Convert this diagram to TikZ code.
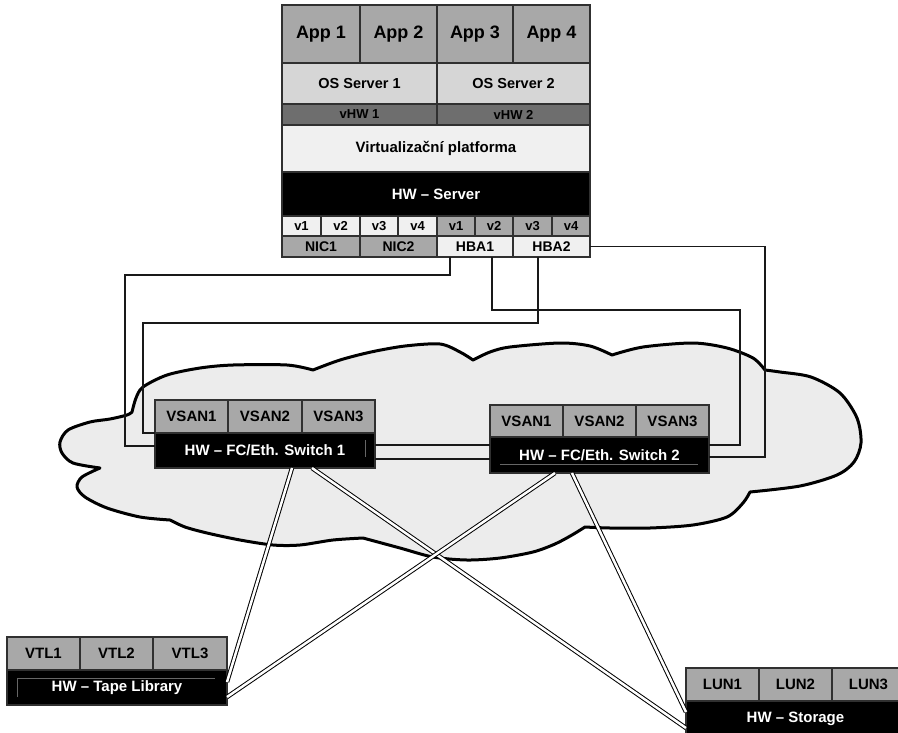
\documentclass[tikz,border=0pt]{standalone}
\usepackage{fontspec}
\setmainfont{Liberation Sans}
\definecolor{cellline}{HTML}{303030}
\definecolor{cgray}{HTML}{A8A8A8}
\definecolor{clight}{HTML}{D6D6D6}
\definecolor{cdark}{HTML}{6E6E6E}
\definecolor{cpale}{HTML}{F0F0F0}
\definecolor{cloudfill}{HTML}{ECECEC}
% a rectangular cell given by its top-left and bottom-right corners
\newcommand\cellat[7]{\node[cell,#6,minimum width={(#4-#2)*1pt},minimum height={(#5-#3)*1pt}] (#1) at (#2,#3) {#7};}
\begin{document}
\begin{tikzpicture}[x=1pt,y=-1pt,
  cell/.style={draw=cellline,line width=1.7pt,inner sep=0pt,outer sep=0pt,anchor=north west,
    font=\bfseries\fontsize{15}{17}\selectfont,text=black},
  mid/.style={fill=cgray},
  pale/.style={fill=cpale},
  hwrow/.style={fill=black,text=white},
  wire/.style={draw=black!90,line width=1.2pt},
  link/.style={draw=black,line width=1pt,double=white,double distance=2.5pt},
  cloud/.style={draw=black,line width=3pt,fill=cloudfill,line join=round},
  ghost/.style={draw=black!60,line width=0.6pt}]
\useasboundingbox (0,0) rectangle (898,732);

% network cloud
\draw[cloud] (132,412)
  -- plot[smooth] coordinates {(132,412) (136,398) (143,387) (167,375) (200,368) (233,365) (287,365) (313,370)}
  -- plot[smooth] coordinates {(313,370) (340,360) (371,352) (405,346) (440,344) (460,352) (473,360)}
  -- plot[smooth] coordinates {(473,360) (490,352) (510,347) (560,343) (590,346) (612,355)}
  -- plot[smooth] coordinates {(612,355) (643,347) (693,343) (727,348) (753,358) (765,370)}
  -- plot[smooth] coordinates {(765,370) (780,372) (811,377) (840,393) (857,418) (861,443) (854,462) (837,475) (800,486) (750,492)}
  -- plot[smooth] coordinates {(750,492) (743,503) (727,517) (693,525) (650,528) (610,528) (585,527)}
  -- plot[smooth] coordinates {(585,527) (572,535) (555,544) (533,552) (500,558) (467,560) (433,557) (400,548) (363,538)}
  -- plot[smooth] coordinates {(363,538) (333,540) (300,545) (273,545) (240,540) (207,533) (185,527) (170,520)}
  -- plot[smooth] coordinates {(170,520) (140,517) (107,508) (85,497) (77,487) (82,477) (100,468)}
  -- plot[smooth] coordinates {(100,468) (73,463) (62,453) (60,442) (68,430) (90,422) (110,419) (127,415) (132,412)}
  -- cycle;

% server stack
\cellat{app1}{282}{5}{360}{63}{mid,font=\bfseries\fontsize{18}{20}\selectfont}{App 1}
\cellat{app2}{360}{5}{437}{63}{mid,font=\bfseries\fontsize{18}{20}\selectfont}{App 2}
\cellat{app3}{437}{5}{513}{63}{mid,font=\bfseries\fontsize{18}{20}\selectfont}{App 3}
\cellat{app4}{513}{5}{590}{63}{mid,font=\bfseries\fontsize{18}{20}\selectfont}{App 4}
\cellat{os1}{282}{63}{437}{104}{fill=clight,font=\bfseries\fontsize{14.5}{16}\selectfont}{OS Server 1}
\cellat{os2}{437}{63}{590}{104}{fill=clight,font=\bfseries\fontsize{14.5}{16}\selectfont}{OS Server 2}
\cellat{vhw1}{282}{104}{437}{125}{fill=cdark,font=\bfseries\fontsize{13}{14}\selectfont}{vHW 1}
\cellat{vhw2}{437}{104}{590}{125}{fill=cdark,font=\bfseries\fontsize{13}{14}\selectfont}{vHW 2}
\cellat{virt}{282}{125}{590}{172}{fill=cpale}{Virtualizační platforma}
\cellat{hws}{282}{172}{590}{216}{hwrow}{HW – Server}
\cellat{va1}{282}{216}{321}{236}{pale,font=\bfseries\fontsize{13}{14}\selectfont}{v1}
\cellat{va2}{321}{216}{360}{236}{pale,font=\bfseries\fontsize{13}{14}\selectfont}{v2}
\cellat{va3}{360}{216}{398}{236}{pale,font=\bfseries\fontsize{13}{14}\selectfont}{v3}
\cellat{va4}{398}{216}{437}{236}{pale,font=\bfseries\fontsize{13}{14}\selectfont}{v4}
\cellat{vb1}{437}{216}{475}{236}{mid,font=\bfseries\fontsize{13}{14}\selectfont}{v1}
\cellat{vb2}{475}{216}{513}{236}{mid,font=\bfseries\fontsize{13}{14}\selectfont}{v2}
\cellat{vb3}{513}{216}{552}{236}{mid,font=\bfseries\fontsize{13}{14}\selectfont}{v3}
\cellat{vb4}{552}{216}{590}{236}{mid,font=\bfseries\fontsize{13}{14}\selectfont}{v4}
\cellat{nic1}{282}{236}{360}{257}{mid,font=\bfseries\fontsize{14}{15}\selectfont}{NIC1}
\cellat{nic2}{360}{236}{437}{257}{mid,font=\bfseries\fontsize{14}{15}\selectfont}{NIC2}
\cellat{hba1}{437}{236}{513}{257}{pale,font=\bfseries\fontsize{14}{15}\selectfont}{HBA1}
\cellat{hba2}{513}{236}{590}{257}{pale,font=\bfseries\fontsize{14}{15}\selectfont}{HBA2}
\draw[draw=cellline,line width=2.2pt] (282,5) rectangle (590,257);

% switch 1
\cellat{s1v1}{155}{400}{228}{433}{mid}{VSAN1}
\cellat{s1v2}{228}{400}{302}{433}{mid}{VSAN2}
\cellat{s1v3}{302}{400}{375}{433}{mid}{VSAN3}
\cellat{sw1hw}{155}{433}{375}{468}{hwrow}{HW – FC/Eth. Switch 1}
\draw[ghost] (365,440) -- (365,457);

% switch 2
\cellat{s2v1}{490}{405}{563}{437}{mid}{VSAN1}
\cellat{s2v2}{563}{405}{636}{437}{mid}{VSAN2}
\cellat{s2v3}{636}{405}{709}{437}{mid}{VSAN3}
\cellat{sw2hw}{490}{437}{709}{473}{hwrow}{HW – FC/Eth. Switch 2}
\draw[ghost] (500,464) -- (698,464);

% tape library
\cellat{vtl1}{7}{637}{80}{670}{mid}{VTL1}
\cellat{vtl2}{80}{637}{153}{670}{mid}{VTL2}
\cellat{vtl3}{153}{637}{227}{670}{mid}{VTL3}
\cellat{tapehw}{7}{670}{227}{705}{hwrow}{HW – Tape Library}
\draw[ghost] (17,697) -- (17,678) -- (215,678);

% storage
\cellat{lun1}{686}{668}{759}{701}{mid}{LUN1}
\cellat{lun2}{759}{668}{832}{701}{mid}{LUN2}
\cellat{lun3}{832}{668}{905}{701}{mid}{LUN3}
\cellat{stohw}{686}{701}{905}{736}{hwrow}{HW – Storage}

% HBA cabling to the switches
\draw[wire] ([xshift=13pt]hba1.south west) |- (125,275) |- ([yshift=4.5pt]sw1hw.west);
\draw[wire] ([xshift=55pt]hba1.south west) |- (740,310) |- ([yshift=10pt]sw2hw.east);
\draw[wire] ([xshift=25pt]hba2.south west) |- (143,323) |- (sw1hw.north west);
\draw[wire] (hba2.east) -| (765,457) -- ([yshift=-2pt]sw2hw.east);

% inter-switch links
\draw[wire] ([yshift=5.5pt]sw1hw.east) -- ([yshift=5.5pt]sw1hw.east -| sw2hw.west);
\draw[wire] ([yshift=-8.5pt]sw1hw.east) -- ([yshift=-8.5pt]sw1hw.east -| sw2hw.west);

% fabric links to tape library and storage
\draw[link] ([xshift=137pt]sw1hw.south west) -- ([yshift=5.5pt]tapehw.east);
\draw[link] ([xshift=157pt]sw1hw.south west) -- ([yshift=-9.5pt]stohw.west);
\draw[link] ([xshift=65pt]sw2hw.south west) -- ([yshift=-9.5pt]tapehw.east);
\draw[link] ([xshift=82pt]sw2hw.south west) -- ([yshift=6.5pt]stohw.west);
\end{tikzpicture}
\end{document}
